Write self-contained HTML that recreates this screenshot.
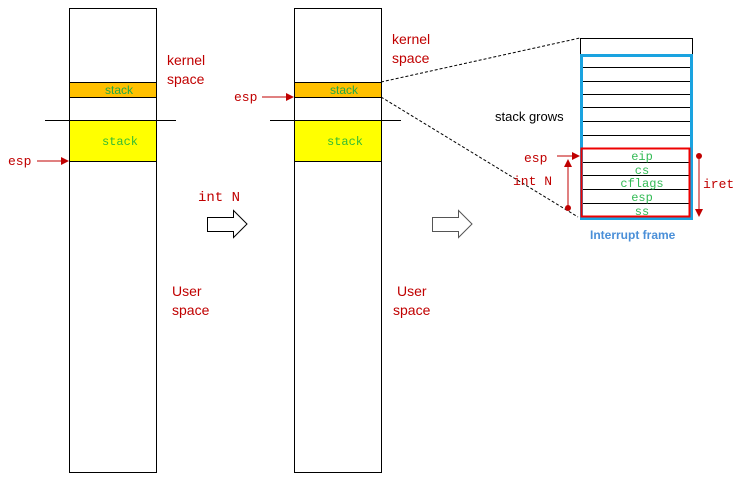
<!DOCTYPE html>
<html><head><style>body{margin:0;background:#fff}svg{display:block}</style></head><body>
<svg width="750" height="480" xmlns="http://www.w3.org/2000/svg" font-family="Liberation Sans, sans-serif">
<defs><marker id="a" markerWidth="8" markerHeight="8" refX="7" refY="4" orient="auto" markerUnits="userSpaceOnUse"><path d="M0,0L8,4L0,8z" fill="#c00000"/></marker></defs>
<!-- column 1 -->
<rect x="69.5" y="8.5" width="87" height="464" fill="#fff" stroke="#000"/>
<rect x="69.5" y="82.5" width="87" height="15" fill="#ffc000" stroke="#000"/>
<text x="119" y="94" font-size="12" fill="#22aa44" text-anchor="middle">stack</text>
<rect x="69.5" y="120.5" width="87" height="41" fill="#ffff00" stroke="#000"/>
<line x1="45" y1="120.5" x2="176" y2="120.5" stroke="#000"/>
<text x="120" y="145" font-size="12" fill="#33bb33" font-family="Liberation Mono, monospace" text-anchor="middle">stack</text>
<line x1="37" y1="161" x2="68" y2="161" stroke="#c00000" marker-end="url(#a)"/>
<text x="8" y="165" font-size="13" fill="#c00000" font-family="Liberation Mono, monospace">esp</text>
<text x="167" y="65" font-size="14" fill="#c00000">kernel</text>
<text x="167" y="84" font-size="14" fill="#c00000">space</text>
<text x="172" y="296" font-size="14" fill="#c00000">User</text>
<text x="172" y="315" font-size="14" fill="#c00000">space</text>
<!-- column 2 -->
<rect x="294.5" y="8.5" width="87" height="464" fill="#fff" stroke="#000"/>
<rect x="294.5" y="82.5" width="87" height="15" fill="#ffc000" stroke="#000"/>
<text x="344" y="94" font-size="12" fill="#22aa44" text-anchor="middle">stack</text>
<rect x="294.5" y="120.5" width="87" height="41" fill="#ffff00" stroke="#000"/>
<line x1="270" y1="120.5" x2="401" y2="120.5" stroke="#000"/>
<text x="345" y="145" font-size="12" fill="#33bb33" font-family="Liberation Mono, monospace" text-anchor="middle">stack</text>
<line x1="262" y1="97" x2="293" y2="97" stroke="#c00000" marker-end="url(#a)"/>
<text x="234" y="101" font-size="13" fill="#c00000" font-family="Liberation Mono, monospace">esp</text>
<text x="392" y="44" font-size="14" fill="#c00000">kernel</text>
<text x="392" y="63" font-size="14" fill="#c00000">space</text>
<text x="397" y="296" font-size="14" fill="#c00000">User</text>
<text x="393" y="315" font-size="14" fill="#c00000">space</text>
<text x="198" y="201" font-size="14" fill="#c00000" font-family="Liberation Mono, monospace">int N</text>
<path d="M207.5,217.5H233.5V210.5L247,224L233.5,237.5V231.5H207.5Z" fill="#fff" stroke="#000"/>
<path d="M432.5,217.5H458.5V210.5L472,224L458.5,237.5V231.5H432.5Z" fill="#fff" stroke="#555"/>
<!-- zoom lines -->
<line x1="381" y1="82" x2="580" y2="38" stroke="#000" stroke-dasharray="3,2"/>
<line x1="381" y1="97" x2="578" y2="217" stroke="#000" stroke-dasharray="3,2"/>
<!-- right stack -->
<rect x="580.5" y="38.5" width="112" height="180" fill="#fff" stroke="#000"/>
<g stroke="#000">
<line x1="581" y1="67.5" x2="691" y2="67.5"/><line x1="581" y1="81.5" x2="691" y2="81.5"/>
<line x1="581" y1="94.5" x2="691" y2="94.5"/><line x1="581" y1="107.5" x2="691" y2="107.5"/>
<line x1="581" y1="121.5" x2="691" y2="121.5"/><line x1="581" y1="135.5" x2="691" y2="135.5"/>
<line x1="581" y1="162.5" x2="691" y2="162.5"/><line x1="581" y1="175.5" x2="691" y2="175.5"/>
<line x1="581" y1="189.5" x2="691" y2="189.5"/><line x1="581" y1="203.5" x2="691" y2="203.5"/>
</g>
<rect x="581.5" y="55.5" width="110" height="163" fill="none" stroke="#1aa3e0" stroke-width="3"/>
<rect x="581.5" y="148.5" width="108" height="68" fill="none" stroke="#ee0000" stroke-width="2"/>
<g font-family="Liberation Mono, monospace" font-size="12" fill="#33bb55" text-anchor="middle">
<text x="642" y="160">eip</text><text x="642" y="174">cs</text><text x="642" y="187">cflags</text>
<text x="642" y="201">esp</text><text x="642" y="215">ss</text></g>
<text x="495" y="121" font-size="13" fill="#000">stack grows</text>
<text x="524" y="162" font-size="13" fill="#c00000" font-family="Liberation Mono, monospace">esp</text>
<line x1="557" y1="156" x2="579" y2="156" stroke="#c00000" marker-end="url(#a)"/>
<text x="513" y="185" font-size="13" fill="#c00000" font-family="Liberation Mono, monospace">int N</text>
<line x1="568" y1="208" x2="568" y2="160" stroke="#c00000" marker-end="url(#a)"/>
<circle cx="568" cy="208" r="3" fill="#c00000"/>
<line x1="699" y1="156" x2="699" y2="216" stroke="#c00000" marker-end="url(#a)"/>
<circle cx="699" cy="156" r="3" fill="#c00000"/>
<text x="703" y="188" font-size="13" fill="#c00000" font-family="Liberation Mono, monospace">iret</text>
<text x="590" y="239" font-size="12" font-weight="bold" fill="#4a8fd8">Interrupt frame</text>
</svg>
</body></html>
